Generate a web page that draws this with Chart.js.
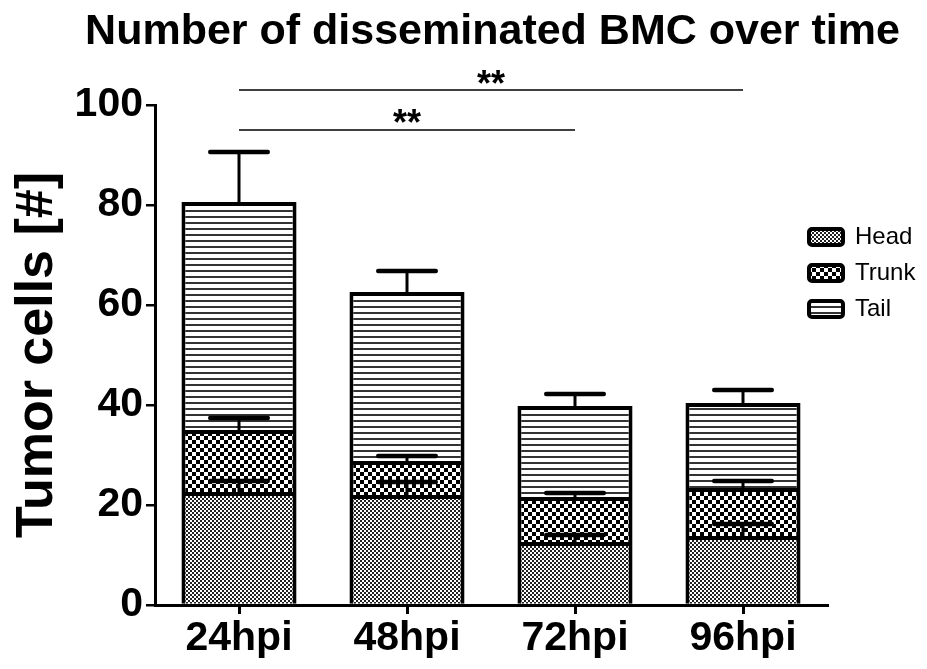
<!DOCTYPE html>
<html>
<head>
<meta charset="utf-8">
<script src="https://cdn.jsdelivr.net/npm/chart.js@4.4.1/dist/chart.umd.min.js"></script>
<style>
  html, body { margin: 0; padding: 0; background: #fff; }
  canvas { display: block; }
</style>
</head>
<body>
<canvas id="c" width="927" height="669"></canvas>
<script>
// ---- data ----
const categories = ['24hpi', '48hpi', '72hpi', '96hpi'];
const seriesNames = ['Head', 'Trunk', 'Tail'];
const headValues  = [22.6, 22.0, 12.6, 13.8];
const trunkValues = [12.4, 6.8, 9.0, 9.6];
const tailValues  = [45.6, 33.8, 18.2, 17.0];
const headErrors  = [2.2, 2.6, 1.4, 2.4];
const trunkErrors = [2.4, 1.0, 0.8, 1.4];
const tailErrors  = [10.0, 4.2, 2.4, 2.6];
const yTicks = [0, 20, 40, 60, 80, 100];
const significance = [[0, 3, '**'], [0, 2, '**']];

const FONT = "'Liberation Sans', Arial, Helvetica, sans-serif";

function makePattern(kind) {
  const c = document.createElement('canvas');
  const g = c.getContext('2d');
  if (kind === 'head') {
    c.width = 4; c.height = 4;
    g.fillStyle = '#fff'; g.fillRect(0, 0, 4, 4);
    g.fillStyle = '#222';
    g.fillRect(0, 0, 2, 2); g.fillRect(2, 2, 2, 2);
  } else if (kind === 'trunk') {
    c.width = 8; c.height = 8;
    g.fillStyle = '#fff'; g.fillRect(0, 0, 8, 8);
    g.fillStyle = '#000';
    g.fillRect(0, 0, 4, 4); g.fillRect(4, 4, 4, 4);
  } else {
    c.width = 6; c.height = 6;
    g.fillStyle = '#fff'; g.fillRect(0, 0, 6, 6);
    g.fillStyle = '#333';
    g.fillRect(0, 0, 6, 2);
  }
  return g.createPattern(c, 'repeat');
}

const values = [headValues, trunkValues, tailValues];
const errors = [headErrors, trunkErrors, tailErrors];
const patterns = [makePattern('head'), makePattern('trunk'), makePattern('tail')];

const errorBarsPlugin = {
  id: 'errorBars',
  afterDatasetsDraw(chart, args, opts) {
    const ctx = chart.ctx;
    const y = chart.scales.y;
    ctx.save();
    ctx.strokeStyle = '#000';
    chart.data.datasets.forEach((ds, di) => {
      const meta = chart.getDatasetMeta(di);
      meta.data.forEach((bar, j) => {
        let cum = 0;
        for (let k = 0; k <= di; k++) cum += values[k][j];
        const topPix = y.getPixelForValue(cum + errors[di][j]);
        const basePix = y.getPixelForValue(cum);
        const half = bar.width * opts.capRatio / 2;
        ctx.lineCap = 'butt';
        ctx.lineWidth = opts.stemWidth;
        ctx.beginPath();
        ctx.moveTo(bar.x, basePix);
        ctx.lineTo(bar.x, topPix);
        ctx.stroke();
        ctx.lineCap = 'round';
        ctx.lineWidth = opts.capWidth;
        ctx.beginPath();
        ctx.moveTo(bar.x - half, topPix);
        ctx.lineTo(bar.x + half, topPix);
        ctx.stroke();
      });
    });
    ctx.restore();
  }
};

const significancePlugin = {
  id: 'significance',
  afterDraw(chart, args, opts) {
    const ctx = chart.ctx;
    const x = chart.scales.x, y = chart.scales.y;
    ctx.save();
    significance.forEach((s, i) => {
      const x1 = x.getPixelForValue(s[0]);
      const x2 = x.getPixelForValue(s[1]);
      const yy = y.getPixelForValue(opts.levels[i]);
      ctx.strokeStyle = '#000';
      ctx.lineWidth = opts.lineWidth;
      ctx.beginPath();
      ctx.moveTo(x1, yy);
      ctx.lineTo(x2, yy);
      ctx.stroke();
      ctx.fillStyle = '#000';
      ctx.font = 'bold ' + opts.fontSize + 'px ' + FONT;
      ctx.textAlign = 'center';
      ctx.textBaseline = 'alphabetic';
      ctx.fillText(s[2], (x1 + x2) / 2, yy + opts.textOffset[i]);
    });
    ctx.restore();
  }
};

const legendPlacePlugin = {
  id: 'legendPlace',
  afterLayout(chart, args, opts) {
    const lg = chart.legend;
    if (!lg) return;
    lg.left = opts.left; lg.width = opts.width; lg.right = opts.left + opts.width;
    lg.top = opts.top; lg.height = opts.height; lg.bottom = opts.top + opts.height;
  }
};

const datasets = seriesNames.map((name, i) => ({
  label: name,
  data: values[i],
  backgroundColor: patterns[i],
  borderColor: '#000',
  borderWidth: 4,
  borderSkipped: 'start',
  barPercentage: 0.685,
  categoryPercentage: 1.0,
  stack: 's'
}));

new Chart(document.getElementById('c'), {
  type: 'bar',
  data: { labels: categories, datasets },
  plugins: [errorBarsPlugin, significancePlugin, legendPlacePlugin],
  options: {
    responsive: false,
    animation: false,
    devicePixelRatio: 1,
    layout: { padding: { left: 58, right: 0, top: 0, bottom: 0 } },
    scales: {
      x: {
        stacked: true,
        grid: { offset: false, drawOnChartArea: false, drawTicks: true, tickLength: 9, color: '#000', lineWidth: 3, tickWidth: 3 },
        border: { display: true, color: '#000', width: 3 },
        ticks: { color: '#000', font: { family: FONT, size: 41, weight: 'bold' }, padding: 0 },
        afterFit(scale) { scale.height = 64; }
      },
      y: {
        stacked: true,
        min: 0, max: 100,
        afterBuildTicks(scale) { scale.ticks = yTicks.map(v => ({ value: v })); },
        grid: { drawOnChartArea: false, drawTicks: true, tickLength: 9, color: '#000', lineWidth: 2.5 },
        border: { display: true, color: '#000', width: 3 },
        ticks: { color: '#000', font: { family: FONT, size: 41, weight: 'bold' }, padding: 3 },
        title: { display: true, text: 'Tumor cells [#]', color: '#000', font: { family: FONT, size: 52, weight: 'bold' }, padding: { top: -52, bottom: 0 } },
        afterFit(scale) { scale.width = 97; }
      }
    },
    plugins: {
      title: {
        display: true,
        text: 'Number of disseminated BMC over time',
        color: '#000',
        font: { family: FONT, size: 43, weight: 'bold' },
        padding: { top: 6, bottom: 47.4 }
      },
      legend: {
        position: 'right',
        align: 'start',
        maxWidth: 100,
        labels: {
          color: '#000',
          font: { family: FONT, size: 24 },
          boxWidth: 34,
          boxHeight: 16,
          padding: 12,
          useBorderRadius: true,
          borderRadius: 3
        }
      },
      tooltip: { enabled: false },
      errorBars: { capRatio: 0.5, stemWidth: 3, capWidth: 4.5 },
      significance: { levels: [103, 95], lineWidth: 1.5, fontSize: 36, textOffset: [6, 5] },
      legendPlace: { left: 797, top: 213, width: 130, height: 140 }
    }
  }
});
</script>
</body>
</html>
